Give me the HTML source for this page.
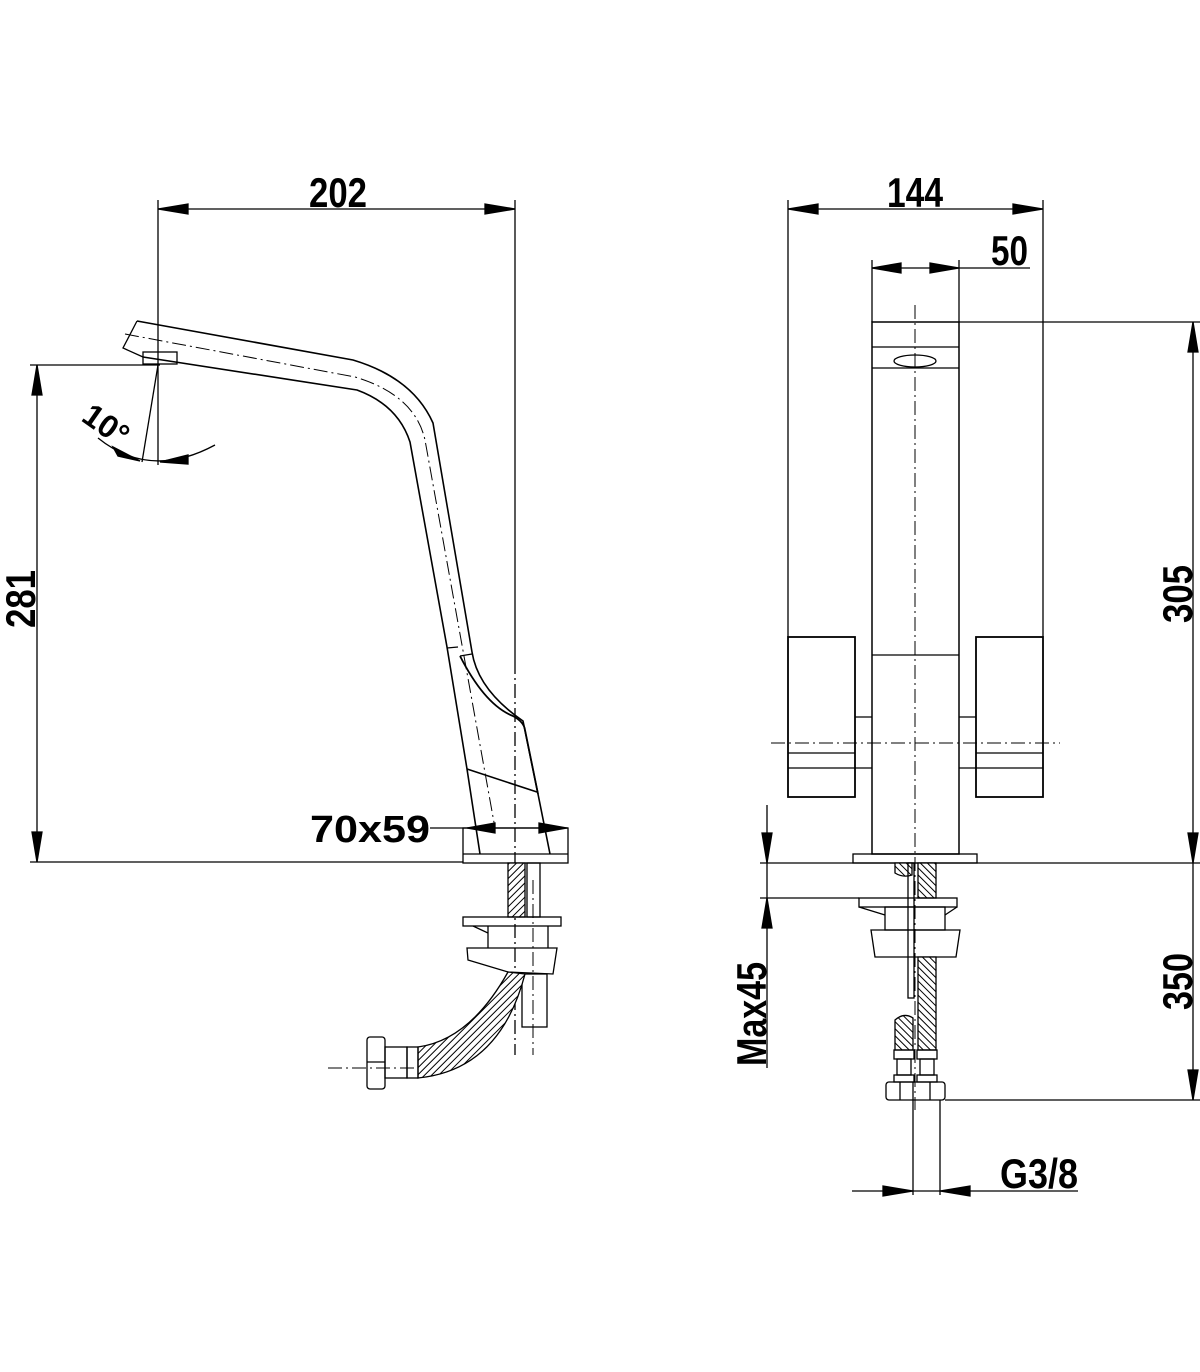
<!DOCTYPE html>
<html><head><meta charset="utf-8"><style>html,body{margin:0;padding:0;background:#fff}svg{display:block}
text{font-family:"Liberation Sans",Arial,sans-serif;font-weight:bold;fill:#000}</style></head>
<body>
<svg width="1200" height="1372" viewBox="0 0 1200 1372" xmlns="http://www.w3.org/2000/svg">
<defs>
<pattern id="h" width="5" height="5" patternUnits="userSpaceOnUse" patternTransform="rotate(45)">
<rect width="5" height="5" fill="#fff"/><line x1="0" y1="0" x2="0" y2="5" stroke="#000" stroke-width="2"/></pattern>
<pattern id="h2" width="5" height="5" patternUnits="userSpaceOnUse" patternTransform="rotate(-45)">
<rect width="5" height="5" fill="#fff"/><line x1="0" y1="0" x2="0" y2="5" stroke="#000" stroke-width="2"/></pattern>
</defs>
<g stroke="#000" fill="none" stroke-width="1.3">
<line x1="158" y1="200" x2="158" y2="465"/>
<line x1="515" y1="200" x2="515" y2="660"/>
<line x1="515" y1="660" x2="515" y2="1055" stroke-dasharray="14,4,2,4"/>
<line x1="158" y1="209" x2="515" y2="209"/>
<polygon points="158,209 188,204 188,214" fill="#000"/>
<polygon points="515,209 485,204 485,214" fill="#000"/>
<line x1="30" y1="365" x2="160" y2="365"/>
<line x1="37" y1="365" x2="37" y2="862"/>
<polygon points="37,365 32,395 42,395" fill="#000"/>
<polygon points="37,862 32,832 42,832" fill="#000"/>
<line x1="30" y1="862" x2="463" y2="862"/>
<line x1="158" y1="365" x2="142" y2="462"/>
<path d="M98,438 Q150,480 215,445"/>
<polygon points="140,461 113,447 118,456" fill="#000"/>
<polygon points="160,462 188,455 188,464" fill="#000"/>
<path d="M137,321 L353,360 Q413,378 433,423 L472,652 Q478,690 523,721 L538,794 L550,854" stroke-width="1.6"/>
<path d="M143,357 L357,390 Q398,405 410,442 L447,647 L467,769 L480,854" stroke-width="1.6"/>
<path d="M137,321 L123,348 L143,357"/>
<rect x="143" y="352" width="34" height="12"/>
<path d="M125,334 L355,377 Q415,395 425,440 L495,828" stroke-dasharray="14,4,2,4" stroke-width="1"/>
<line x1="447" y1="648" x2="458" y2="647"/>
<line x1="460" y1="656" x2="472" y2="654"/>
<path d="M460,656 Q485,705 513,716 Q524,722 525,730 L538,794" stroke-width="1.8"/>
<line x1="467" y1="769" x2="537" y2="792" stroke-width="1.6"/>
<rect x="463" y="828" width="105" height="35"/>
<line x1="463" y1="854" x2="568" y2="854"/>
<line x1="430" y1="828" x2="568" y2="828"/>
<polygon points="467,828 495,823 495,833" fill="#000"/>
<polygon points="567,828 539,823 539,833" fill="#000"/>
<rect x="508" y="863" width="17" height="54" fill="url(#h)"/>
<rect x="527" y="863" width="13" height="54"/>
<rect x="463" y="917" width="98" height="9"/>
<path d="M473,926 L488,933 L488,948 M548,926 L548,948 M488,926 L488,948"/>
<path d="M467,948 L557,948 L553,974 L508,972 L468,960 Z"/>
<rect x="522" y="974" width="25" height="53"/>
<path d="M508,972 Q470,1040 418,1047 L418,1078 Q500,1070 525,974 Z" fill="url(#h)"/>
<rect x="407" y="1047" width="11" height="31"/>
<rect x="385" y="1047" width="22" height="31"/>
<rect x="367" y="1037" width="18" height="52" rx="3"/>
<line x1="367" y1="1062" x2="385" y2="1062"/>
<line x1="533" y1="880" x2="533" y2="1055" stroke-dasharray="14,4,2,4" stroke-width="1"/>
<line x1="328" y1="1068" x2="418" y2="1068" stroke-dasharray="14,4,2,4" stroke-width="1"/>
<line x1="788" y1="200" x2="788" y2="637"/>
<line x1="1043" y1="200" x2="1043" y2="637"/>
<line x1="788" y1="209" x2="1043" y2="209"/>
<polygon points="788,209 818,204 818,214" fill="#000"/>
<polygon points="1043,209 1013,204 1013,214" fill="#000"/>
<line x1="872" y1="260" x2="872" y2="322"/>
<line x1="959" y1="260" x2="959" y2="322"/>
<line x1="872" y1="268" x2="1030" y2="268"/>
<polygon points="872,268 901,263 901,273" fill="#000"/>
<polygon points="959,268 930,263 930,273" fill="#000"/>
<rect x="872" y="322" width="87" height="532" stroke-width="1.5"/>
<line x1="872" y1="347" x2="959" y2="347"/>
<line x1="872" y1="368" x2="959" y2="368"/>
<ellipse cx="915" cy="361" rx="21" ry="6"/>
<line x1="872" y1="655" x2="959" y2="655"/>
<rect x="788" y="637" width="67" height="160" stroke-width="1.8"/>
<rect x="976" y="637" width="67" height="160" stroke-width="1.8"/>
<line x1="788" y1="753" x2="855" y2="753"/><line x1="788" y1="768" x2="855" y2="768"/>
<line x1="976" y1="753" x2="1043" y2="753"/><line x1="976" y1="768" x2="1043" y2="768"/>
<line x1="855" y1="717" x2="872" y2="717"/><line x1="855" y1="768" x2="872" y2="768"/>
<line x1="959" y1="717" x2="976" y2="717"/><line x1="959" y1="768" x2="976" y2="768"/>
<line x1="771" y1="743" x2="1060" y2="743" stroke-dasharray="14,4,2,4" stroke-width="1"/>
<line x1="915" y1="305" x2="915" y2="1110" stroke-dasharray="14,4,2,4" stroke-width="1"/>
<line x1="959" y1="322" x2="1200" y2="322"/>
<line x1="1193" y1="322" x2="1193" y2="863"/>
<polygon points="1193,322 1188,352 1198,352" fill="#000"/>
<polygon points="1193,863 1188,833 1198,833" fill="#000"/>
<rect x="853" y="854" width="124" height="9"/>
<line x1="760" y1="863" x2="1200" y2="863"/>
<rect x="918" y="863" width="18" height="35" fill="url(#h2)"/>
<path d="M895,863 L912,863 L912,875 Q903,878 895,873 Z" fill="url(#h2)"/>
<rect x="908" y="863" width="6" height="135"/>
<line x1="760" y1="898" x2="859" y2="898"/>
<rect x="859" y="898" width="98" height="9"/>
<path d="M859,907 L885,915 M957,907 L945,915"/>
<rect x="885" y="907" width="60" height="23"/>
<path d="M871,930 L960,930 L956,957 L875,957 Z"/>
<rect x="918" y="957" width="18" height="93" fill="url(#h2)"/>
<path d="M895,1050 L895,1020 Q904,1012 913,1018 L913,1050 Z" fill="url(#h2)"/>
<rect x="894" y="1050" width="20" height="9"/><rect x="897" y="1059" width="14" height="16"/><rect x="894" y="1075" width="20" height="7"/>
<rect x="917" y="1050" width="20" height="9"/><rect x="920" y="1059" width="14" height="16"/><rect x="917" y="1075" width="20" height="7"/>
<rect x="886" y="1082" width="59" height="18" rx="3"/>
<line x1="900" y1="1082" x2="900" y2="1100"/><line x1="913" y1="1082" x2="913" y2="1100"/><line x1="930" y1="1082" x2="930" y2="1100"/>
<line x1="945" y1="1100" x2="1200" y2="1100"/>
<line x1="1193" y1="863" x2="1193" y2="1100"/>
<polygon points="1193,1100 1188,1070 1198,1070" fill="#000"/>
<line x1="913" y1="1100" x2="913" y2="1195"/>
<line x1="940" y1="1100" x2="940" y2="1195"/>
<line x1="852" y1="1191" x2="1078" y2="1191"/>
<polygon points="913,1191 883,1186 883,1196" fill="#000"/>
<polygon points="940,1191 970,1186 970,1196" fill="#000"/>
<line x1="767" y1="805" x2="767" y2="1068"/>
<polygon points="767,863 762,833 772,833" fill="#000"/>
<polygon points="767,898 762,928 772,928" fill="#000"/>
</g>
<text x="309" y="207" font-size="42" textLength="58" lengthAdjust="spacingAndGlyphs">202</text>
<text x="887" y="207" font-size="42" textLength="56" lengthAdjust="spacingAndGlyphs">144</text>
<text x="991" y="265" font-size="42" textLength="37" lengthAdjust="spacingAndGlyphs">50</text>
<text x="310" y="842" font-size="38" textLength="120" lengthAdjust="spacingAndGlyphs">70x59</text>
<text x="1000" y="1188" font-size="42" textLength="78" lengthAdjust="spacingAndGlyphs">G3/8</text>
<text transform="translate(35,628) rotate(-90)" font-size="42" textLength="58" lengthAdjust="spacingAndGlyphs">281</text>
<text transform="translate(1192,623) rotate(-90)" font-size="42" textLength="58" lengthAdjust="spacingAndGlyphs">305</text>
<text transform="translate(1192,1010) rotate(-90)" font-size="42" textLength="57" lengthAdjust="spacingAndGlyphs">350</text>
<text transform="translate(766,1066) rotate(-90)" font-size="42" textLength="104" lengthAdjust="spacingAndGlyphs">Max45</text>
<text transform="translate(80,420) rotate(35)" font-size="32">10°</text>
</svg>
</body></html>
